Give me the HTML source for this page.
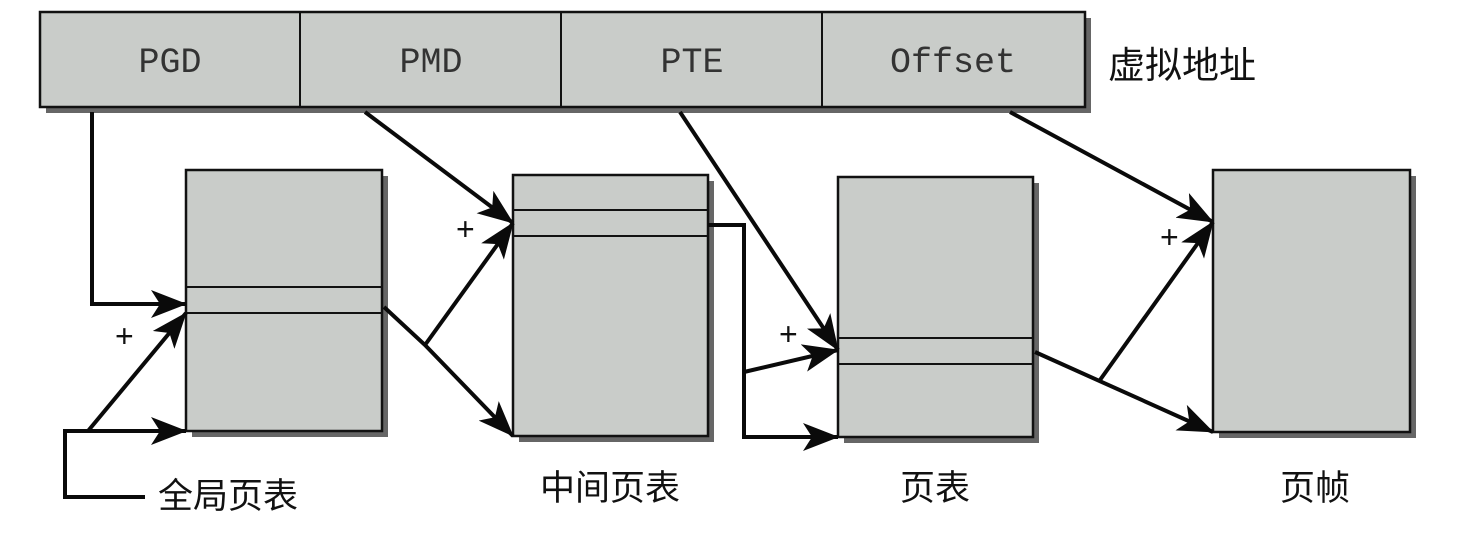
<!DOCTYPE html>
<html><head><meta charset="utf-8"><style>
html,body{margin:0;padding:0;background:#fff;}
svg{display:block;}
.m{font-family:"Liberation Mono",monospace;font-size:35px;fill:#333;}
.c{font-family:"Liberation Sans","Noto Sans CJK SC",sans-serif;font-size:35px;fill:#111;}
.p{font-family:"Liberation Sans",sans-serif;font-size:32px;fill:#111;font-weight:300;}
</style></head><body>
<svg width="1478" height="540" viewBox="0 0 1478 540" xmlns="http://www.w3.org/2000/svg">
<defs>
<marker id="ar" viewBox="0 0 36 28" refX="35" refY="14" markerWidth="36" markerHeight="28" orient="auto" markerUnits="userSpaceOnUse">
<path d="M0,0 L36,14 L0,28 L9,14 Z" fill="#0a0a0a"/>
</marker>
</defs>
<g fill="#666">
<rect x="46" y="18" width="1045" height="95"/>
<rect x="192" y="176" width="196" height="261"/>
<rect x="519" y="181" width="195" height="261"/>
<rect x="844" y="183" width="195" height="260"/>
<rect x="1219" y="176" width="197" height="262"/>
</g>
<g fill="#c9ccc9" stroke="#111" stroke-width="2.5">
<rect x="40" y="12" width="1045" height="95"/>
<rect x="186" y="170" width="196" height="261"/>
<rect x="513" y="175" width="195" height="261"/>
<rect x="838" y="177" width="195" height="260"/>
<rect x="1213" y="170" width="197" height="262"/>
</g>
<g stroke="#111" stroke-width="2">
<line x1="300" y1="12" x2="300" y2="107"/>
<line x1="561" y1="12" x2="561" y2="107"/>
<line x1="822" y1="12" x2="822" y2="107"/>
<line x1="186" y1="287" x2="382" y2="287"/>
<line x1="186" y1="313" x2="382" y2="313"/>
<line x1="513" y1="210" x2="708" y2="210"/>
<line x1="513" y1="236" x2="708" y2="236"/>
<line x1="838" y1="338" x2="1033" y2="338"/>
<line x1="838" y1="364" x2="1033" y2="364"/>
</g>
<text class="m" x="170" y="72" text-anchor="middle">PGD</text>
<text class="m" x="431" y="72" text-anchor="middle">PMD</text>
<text class="m" x="692" y="72" text-anchor="middle">PTE</text>
<text class="m" x="953" y="72" text-anchor="middle">Offset</text>
<text class="c" x="1108" y="78" style="font-size:37px">虚拟地址</text>
<g stroke="#0a0a0a" stroke-width="4" fill="none">
<polyline points="92,112 92,304 186,304" marker-end="url(#ar)"/>
<polyline points="145,497 65,497 65,431 186,431" marker-end="url(#ar)"/>
<line x1="88" y1="431" x2="186" y2="313" marker-end="url(#ar)"/>
<polyline points="384,307 425,345 513,436" marker-end="url(#ar)"/>
<line x1="425" y1="345" x2="513" y2="223" marker-end="url(#ar)"/>
<line x1="365" y1="112" x2="513" y2="223" marker-end="url(#ar)"/>
<polyline points="708,225 744,225 744,437 838,437" marker-end="url(#ar)"/>
<line x1="744" y1="372" x2="838" y2="350" marker-end="url(#ar)"/>
<line x1="680" y1="112" x2="838" y2="350" marker-end="url(#ar)"/>
<line x1="1035" y1="352" x2="1213" y2="432" marker-end="url(#ar)"/>
<line x1="1100" y1="380" x2="1213" y2="222" marker-end="url(#ar)"/>
<line x1="1010" y1="112" x2="1213" y2="222" marker-end="url(#ar)"/>
</g>
<text class="p" x="115" y="347">+</text>
<text class="p" x="456" y="240">+</text>
<text class="p" x="779" y="345">+</text>
<text class="p" x="1160" y="248">+</text>
<text class="c" x="158" y="508">全局页表</text>
<text class="c" x="540" y="500">中间页表</text>
<text class="c" x="900" y="500">页表</text>
<text class="c" x="1280" y="500">页帧</text>
</svg>
</body></html>
